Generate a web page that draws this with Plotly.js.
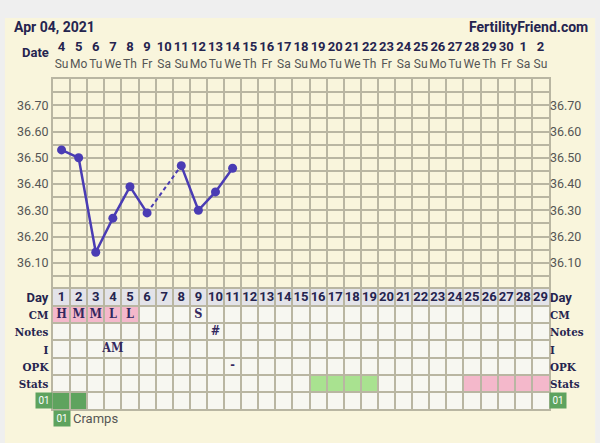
<!DOCTYPE html>
<html>
<head>
<meta charset="utf-8">
<script src="https://cdn.plot.ly/plotly-3.0.1.min.js"></script>
<style>
  html, body { margin: 0; padding: 0; background: #efefef; }
  #chart { width: 600px; height: 443px; }
</style>
</head>
<body>
<div id="chart"></div>
<script>
// chart data
const cycleDays = [1, 2, 3, 4, 5, 6, 7, 8, 9, 10, 11, 12, 13, 14, 15, 16, 17, 18, 19, 20, 21, 22, 23, 24, 25, 26, 27, 28, 29];
const dateNums = [4, 5, 6, 7, 8, 9, 10, 11, 12, 13, 14, 15, 16, 17, 18, 19, 20, 21, 22, 23, 24, 25, 26, 27, 28, 29, 30, 1, 2];
const weekdays = ["Su", "Mo", "Tu", "We", "Th", "Fr", "Sa", "Su", "Mo", "Tu", "We", "Th", "Fr", "Sa",
  "Su", "Mo", "Tu", "We", "Th", "Fr", "Sa", "Su", "Mo", "Tu", "We", "Th", "Fr", "Sa", "Su"];
const tempDays = [1, 2, 3, 4, 5, 6, 7, 8, 9, 10, 11];
const temps = [36.53, 36.50, 36.14, 36.27, 36.39, 36.29, null, 36.47, 36.30, 36.37, 36.46];
const tempTicks = [36.05, 36.10, 36.15, 36.20, 36.25, 36.30, 36.35, 36.40, 36.45, 36.50, 36.55, 36.60, 36.65, 36.70, 36.75];
const tempLabels = ["", "36.10", "", "36.20", "", "36.30", "", "36.40", "", "36.50", "", "36.60", "", "36.70", ""];
const rowLabels = ["Day", "CM", "Notes", "I", "OPK", "Stats", ""];
const cmDays = [1, 2, 3, 4, 5, 9];
const cmText = ["H", "M", "M", "L", "L", "S"];
const cmPinkDays = [1, 2, 3, 4, 5];
const noteDays = [10];
const noteText = ["#"];
const intercourseDays = [4];
const intercourseText = ["AM"];
const opkDays = [11];
const opkText = ["-"];
const statsGreenDays = [16, 17, 18, 19];
const statsPinkDays = [25, 26, 27, 28, 29];
const crampDays = [1, 2];

const CREAM = "#f9f5dc";
const CELL = "#f7f7f1";
const DAYROW = "#e3e3e9";
const PINK = "#f4b8cb";
const GREEN = "#a9e290";
const DKGREEN = "#5ea35e";
const GRID = "#b9b6a2";
const NAVY = "#25244f";
const LINE = "#4a3cb4";
const SERIF = "DejaVu Serif Condensed, Liberation Serif, serif";

// rows of the table under the chart (y2 goes 0 at top to 7 at bottom)
const ROW = { day: 0, cm: 1, notes: 2, i: 3, opk: 4, stats: 5, cramps: 6 };

function cell(day, row, color) {
  return {
    type: "rect", xref: "x", yref: "y2", layer: "below",
    x0: day - 0.5, x1: day + 0.5, y0: row, y1: row + 1,
    fillcolor: color, line: { width: 0 },
  };
}

function rowBand(row, color) {
  return {
    type: "rect", xref: "x", yref: "y2", layer: "below",
    x0: 0.5, x1: 29.5, y0: row, y1: row + 1,
    fillcolor: color, line: { width: 0 },
  };
}

const shapes = [
  // cream panel
  {
    type: "rect", xref: "paper", yref: "paper", layer: "below",
    x0: -0.097, x1: 1.093, y0: -0.2, y1: 1.185,
    fillcolor: CREAM, line: { width: 0 },
  },
  rowBand(ROW.day, DAYROW),
  ...[1, 2, 3, 4, 5, 6].map(r => rowBand(r, CELL)),
  ...cmPinkDays.map(d => cell(d, ROW.cm, PINK)),
  ...statsGreenDays.map(d => cell(d, ROW.stats, GREEN)),
  ...statsPinkDays.map(d => cell(d, ROW.stats, PINK)),
  ...crampDays.map(d => cell(d, ROW.cramps, DKGREEN)),
];

// solid line with gaps, dashed bridge over missing days
const bridgeX = [];
const bridgeY = [];
temps.forEach((t, i) => {
  if (t !== null) return;
  const prev = temps[i - 1];
  const next = temps[i + 1];
  if (prev == null || next == null) return;
  bridgeX.push(tempDays[i - 1], tempDays[i + 1], null);
  bridgeY.push(prev, next, null);
});

const textTrace = (days, texts, row, font) => ({
  type: "scatter", mode: "text", xaxis: "x", yaxis: "y2",
  x: days, y: days.map(() => row + 0.5),
  text: texts, textposition: "middle center",
  textfont: font, hoverinfo: "skip",
});

const serifFont = { family: SERIF, size: 12.5, color: "#33285f", weight: "bold" };

const traces = [
  {
    type: "scatter", mode: "lines", x: bridgeX, y: bridgeY,
    line: { color: LINE, width: 2, dash: "4px,3px" }, hoverinfo: "skip",
  },
  {
    type: "scatter", mode: "lines+markers", x: tempDays, y: temps,
    connectgaps: false,
    line: { color: LINE, width: 2.5 },
    marker: { color: LINE, size: 9 },
  },
  // keeps the top date axis and right temperature axis alive
  {
    type: "scatter", mode: "markers", xaxis: "x2", yaxis: "y3",
    x: tempDays, y: temps, opacity: 0, hoverinfo: "skip",
  },
  {
    type: "scatter", mode: "text", xaxis: "x", yaxis: "y4",
    x: cycleDays, y: cycleDays.map(() => ROW.day + 0.5),
    text: cycleDays.map(String),
    textfont: { family: "Roboto", size: 13, color: NAVY, weight: "bold" },
    hoverinfo: "skip",
  },
  textTrace(cmDays, cmText, ROW.cm, serifFont),
  textTrace(noteDays, noteText, ROW.notes, serifFont),
  textTrace(intercourseDays, intercourseText, ROW.i, serifFont),
  textTrace(opkDays, opkText, ROW.opk, serifFont),
];

const dateLabels = dateNums.map((n, i) =>
  `<b>${n}</b><br><span style="color:#555;font-weight:normal;font-size:12px">${weekdays[i]}</span>`);

const rowLabelText = rowLabels.map((r, i) =>
  i === 0 ? `<b>${r}</b>` : `<span style="font-family:${SERIF};font-size:11.5px"><b>${r}</b></span>`);
const rowCenters = rowLabels.map((r, i) => i + 0.5);

const colEdges = [0, ...cycleDays].map(d => d + 0.5);
const TABLE_TOP = 0.3636;

const tempAxis = {
  range: [36.0, 36.8], tickvals: tempTicks, ticktext: tempLabels,
  ticks: "", zeroline: false, fixedrange: true,
  tickfont: { family: "Roboto", size: 12.5, color: "#555" },
};
const rowAxis = {
  range: [7, 0], tickvals: rowCenters, ticktext: rowLabelText,
  ticks: "", zeroline: false, fixedrange: true, showgrid: false,
  tickfont: { family: "Roboto", size: 13, color: NAVY },
};

const legendBox = (x, y, xanchor, yref) => ({
  xref: "paper", yref, x, y, xanchor, yanchor: "middle",
  text: "01", showarrow: false, bgcolor: DKGREEN,
  font: { family: "Roboto", size: 10, color: "#ffffff" },
  width: 16, height: 15, borderpad: 0,
});

const layout = {
  width: 600,
  height: 443,
  margin: { l: 53, r: 51, t: 79, b: 34 },
  paper_bgcolor: "#efefef",
  plot_bgcolor: CREAM,
  showlegend: false,
  shapes,
  xaxis: {
    range: [0.5, 29.5], tickvals: colEdges, showticklabels: false, ticks: "",
    showgrid: true, gridcolor: GRID, gridwidth: 2, zeroline: false,
    showline: true, linecolor: GRID, linewidth: 2, mirror: "all",
    anchor: "y2", fixedrange: true,
  },
  xaxis2: {
    range: [0.5, 29.5], overlaying: "x", side: "top", anchor: "y",
    tickvals: cycleDays, ticktext: dateLabels, tickangle: 0,
    ticks: "outside", ticklen: 5, tickcolor: "rgba(0,0,0,0)",
    showgrid: false, zeroline: false, fixedrange: true,
    tickfont: { family: "Roboto", size: 13, color: NAVY },
  },
  yaxis: {
    ...tempAxis, domain: [TABLE_TOP, 1],
    showgrid: true, gridcolor: GRID, gridwidth: 2,
    showline: true, linecolor: GRID, linewidth: 2, mirror: true,
  },
  yaxis3: { ...tempAxis, overlaying: "y", side: "right", anchor: "x", showgrid: false },
  yaxis2: {
    ...rowAxis, domain: [0, TABLE_TOP],
    minor: { tickmode: "linear", tick0: 0, dtick: 1, showgrid: true, gridcolor: GRID, gridwidth: 2, ticks: "" },
    showline: true, linecolor: GRID, linewidth: 2, mirror: true,
  },
  yaxis4: { ...rowAxis, overlaying: "y2", side: "right", anchor: "x" },
  annotations: [
    {
      xref: "paper", yref: "paper", x: -0.083, y: 1.158, xanchor: "left", yanchor: "middle",
      text: "<b>Apr 04, 2021</b>", showarrow: false,
      font: { family: "Roboto", size: 14, color: NAVY },
    },
    {
      xref: "paper", yref: "paper", x: 1.083, y: 1.158, xanchor: "right", yanchor: "middle",
      text: "<b>FertilityFriend.com</b>", showarrow: false,
      font: { family: "Roboto", size: 14, color: NAVY },
    },
    {
      xref: "paper", yref: "paper", x: -0.004, y: 1.08, xanchor: "right", yanchor: "middle",
      text: "<b>Date</b>", showarrow: false,
      font: { family: "Roboto", size: 13, color: NAVY },
    },
    legendBox(-0.018, ROW.cramps + 0.5, "center", "y2"),
    legendBox(1.018, ROW.cramps + 0.5, "center", "y2"),
    legendBox(0.0, -0.03, "left", "paper"),
    {
      xref: "paper", yref: "paper", x: 0.036, y: -0.03, xanchor: "left", yanchor: "middle",
      text: "Cramps", showarrow: false,
      font: { family: "Roboto", size: 13, color: "#555" },
    },
  ],
};

Plotly.newPlot("chart", traces, layout, { displayModeBar: false, staticPlot: true });
</script>
</body>
</html>
